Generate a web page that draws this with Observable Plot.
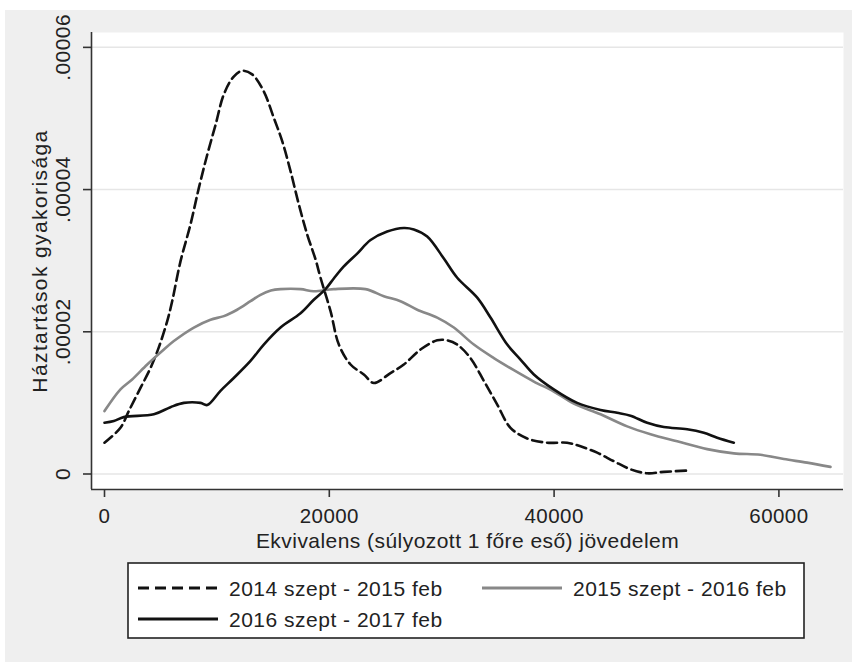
<!DOCTYPE html>
<html><head><meta charset="utf-8">
<script src="https://cdn.jsdelivr.net/npm/d3@7"></script>
<script src="https://cdn.jsdelivr.net/npm/@observablehq/plot@0.6"></script>
<style>
body{margin:0;background:#fff;width:853px;height:662px;position:relative;overflow:hidden;font-family:"Liberation Sans",Arial,sans-serif;}
#bg{position:absolute;left:5px;top:10px;width:847px;height:652px;background:#efefef;}
#chart{position:absolute;left:0;top:0;}
#legend{position:absolute;left:0;top:550px;}
</style></head><body>
<div id="bg"></div><div id="chart"></div><svg id="legend" width="853" height="112"></svg>
<script>
// ---- data ----
const seriesNames = ["2014 szept - 2015 feb", "2015 szept - 2016 feb", "2016 szept - 2017 feb"];
const seriesColors = ["#111111", "#888888", "#111111"];
const seriesDash = ["10,5", null, null];

const inc2014 = [0,1420,2160,3200,4090,4830,5580,6020,6760,7650,8390,9140,9880,10620,11500,12250,13140,14170,15060,15810,16550,17290,18030,18770,19220,20110,20850,21890,23070,23960,25440,26630,28110,29600,30490,31380,32560,33750,34930,36120,37600,39380,41160,42350,43830,45310,46800,48280,49760,52130];
const dens2014 = [4.4e-6,6.5e-6,8.85e-6,12.1e-6,14.9e-6,17.8e-6,21.5e-6,24.3e-6,29.9e-6,35.1e-6,40.2e-6,44.9e-6,49.1e-6,53.4e-6,55.9e-6,56.7e-6,56.2e-6,53.8e-6,50.1e-6,46.8e-6,42.6e-6,37.9e-6,33.7e-6,30.2e-6,27.6e-6,22.9e-6,18.2e-6,15.4e-6,14.0e-6,12.8e-6,14.2e-6,15.4e-6,17.5e-6,18.8e-6,18.8e-6,18.2e-6,16.3e-6,13.1e-6,9.8e-6,6.5e-6,5.0e-6,4.4e-6,4.4e-6,3.9e-6,3.0e-6,1.8e-6,0.66e-6,0.1e-6,0.3e-6,0.5e-6];

const inc2015 = [0,1420,2460,3800,5130,6170,7950,9430,10620,11800,12990,13880,14800,15660,17440,18620,20400,23220,24850,26330,27820,29600,31080,32860,34640,36420,38200,39970,41750,44130,46500,48580,50950,53620,55990,58360,60440,62510,64590];
const dens2015 = [8.85e-6,11.9e-6,13.3e-6,15.4e-6,17.3e-6,18.7e-6,20.6e-6,21.7e-6,22.2e-6,23.1e-6,24.3e-6,25.2e-6,25.8e-6,26.0e-6,26.0e-6,25.7e-6,26.0e-6,26.0e-6,25.0e-6,24.3e-6,23.1e-6,22.0e-6,20.6e-6,18.2e-6,16.3e-6,14.6e-6,13.0e-6,11.6e-6,9.9e-6,8.4e-6,6.7e-6,5.6e-6,4.6e-6,3.5e-6,2.9e-6,2.7e-6,2.1e-6,1.6e-6,1.0e-6];

const inc2016 = [0,830,1720,4390,5870,7060,8540,9140,10320,11500,12990,14170,15660,17440,18620,19660,20400,21290,22480,23670,25150,26630,27520,28710,30190,31380,33160,34340,35830,37010,38200,39970,42050,44130,45610,46800,48280,49760,51840,53320,54510,55990];
const dens2016 = [7.2e-6,7.45e-6,8.0e-6,8.4e-6,9.4e-6,10.0e-6,10.0e-6,9.7e-6,11.7e-6,13.5e-6,15.9e-6,18.2e-6,20.6e-6,22.6e-6,24.5e-6,26.0e-6,27.5e-6,29.2e-6,31.0e-6,32.9e-6,34.1e-6,34.6e-6,34.4e-6,33.4e-6,30.3e-6,27.6e-6,24.8e-6,22.0e-6,18.2e-6,16.1e-6,14.0e-6,11.9e-6,10.0e-6,9.0e-6,8.6e-6,8.2e-6,7.2e-6,6.6e-6,6.3e-6,5.8e-6,5.1e-6,4.4e-6];

const xTicks = [0, 20000, 40000, 60000];
const yTicks = [0, 0.00002, 0.00004, 0.00006];
const xTitle = "Ekvivalens (súlyozott 1 főre eső) jövedelem";
const yTitle = "Háztartások gyakorisága";

// ---- build ----
const xDomain = [-1157, 65747];
const yDomain = [-2.18e-6, 6.209e-5];
const toRows = (xs, ys) => xs.map((x, i) => ({x, y: ys[i]}));
const series = [toRows(inc2014, dens2014), toRows(inc2015, dens2015), toRows(inc2016, dens2016)];
const fmtY = d => d === 0 ? "0" : d.toFixed(5).replace(/^0/, "");

const lineMarks = series.map((rows, i) => Plot.line(rows, {
  x: "x", y: "y", stroke: seriesColors[i], strokeWidth: 2.6,
  curve: "catmull-rom",
  ...(seriesDash[i] ? {strokeDasharray: seriesDash[i]} : {})
}));

const chart = Plot.plot({
  width: 853, height: 560,
  marginLeft: 91, marginRight: 10, marginTop: 32, marginBottom: 71,
  style: {background: "transparent", fontFamily: '"Liberation Sans", Arial, sans-serif', fontSize: "21px", color: "#222", letterSpacing: "0.45px"},
  x: {domain: xDomain, axis: null},
  y: {domain: yDomain, axis: null},
  marks: [
    Plot.frame({fill: "white", stroke: "none"}),
    Plot.gridY(yTicks, {stroke: "#e6e6e6", strokeOpacity: 1, strokeWidth: 1.5}),
    lineMarks[0], lineMarks[1], lineMarks[2],
    Plot.ruleY([yDomain[0]], {stroke: "#333", strokeWidth: 1.6}),
    Plot.ruleX([xDomain[0]], {stroke: "#333", strokeWidth: 1.6}),
    Plot.axisX(xTicks, {tickSize: 8, tickPadding: 11, fontSize: 20.5, tickFormat: d => String(d), label: null, stroke: "#333", strokeWidth: 1.6}),
    Plot.axisY(yTicks, {tickSize: 8, tickFormat: () => "", label: null, stroke: "#333", strokeWidth: 1.6}),
    Plot.text(yTicks, {y: d => d, text: fmtY, frameAnchor: "left", dx: -28.5, rotate: -90, textAnchor: "middle", lineAnchor: "middle"}),
    Plot.text([yTitle], {frameAnchor: "left", dx: -51, rotate: -90, textAnchor: "middle", lineAnchor: "middle"}),
    Plot.text([xTitle], {frameAnchor: "bottom", dy: 52, textAnchor: "middle", lineAnchor: "middle"})
  ]
});
document.getElementById("chart").appendChild(chart);
d3.select(chart).selectAll("text").filter(function(){return this.textContent === yTitle;}).style("letter-spacing", "1.4px");

// ---- legend ----
const lg = d3.select("#legend");
lg.append("rect").attr("x", 128).attr("y", 13).attr("width", 676).attr("height", 75)
  .attr("fill", "white").attr("stroke", "#222").attr("stroke-width", 1.6);
const slots = [{x: 138, y: 38}, {x: 482, y: 38}, {x: 138, y: 69}];
seriesNames.forEach((name, i) => {
  const s = slots[i];
  const ln = lg.append("line").attr("x1", s.x).attr("x2", s.x + 80).attr("y1", s.y).attr("y2", s.y)
    .attr("stroke", seriesColors[i]).attr("stroke-width", 2.8);
  if (seriesDash[i]) ln.attr("stroke-dasharray", "11,6");
  lg.append("text").attr("x", s.x + 91).attr("y", s.y + 7.5).text(name)
    .attr("font-family", '"Liberation Sans", Arial, sans-serif').attr("font-size", 21)
    .attr("fill", "#222").style("letter-spacing", "0.5px");
});
</script>
</body></html>
